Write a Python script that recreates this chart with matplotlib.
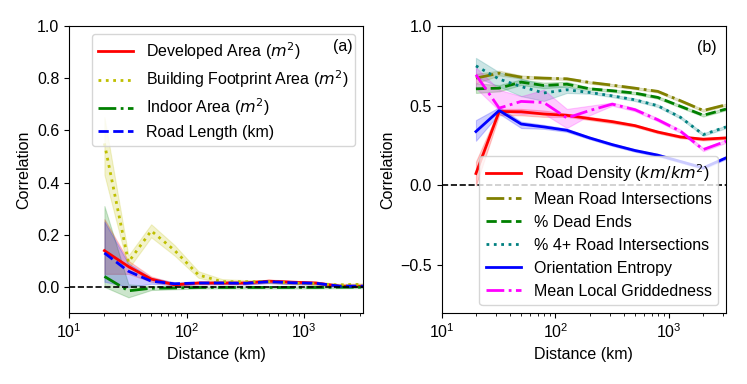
import matplotlib
matplotlib.use("Agg")
import matplotlib.pyplot as plt
import numpy as np

plt.rcParams['font.family'] = ['Liberation Sans', 'DejaVu Sans']
plt.rcParams['mathtext.fontset'] = 'dejavusans'

distance = [20, 32, 50, 79, 126, 200, 316, 501, 794, 1259, 1995, 3162]

# Panel (a)
developed = [0.139, 0.078, 0.030, 0.008, 0.015, 0.015, 0.015, 0.022, 0.018, 0.015, 0.003, 0.003]
developed_lo = [0.05, 0.05, 0.020, 0.003, 0.010, 0.010, 0.010, 0.016, 0.012, 0.010, 0.000, 0.000]
developed_hi = [0.26, 0.10, 0.040, 0.014, 0.020, 0.020, 0.020, 0.028, 0.024, 0.020, 0.007, 0.007]

footprint = [0.55, 0.095, 0.215, 0.14, 0.046, 0.020, 0.020, 0.020, 0.015, 0.012, 0.008, 0.010]
footprint_lo = [0.43, 0.07, 0.19, 0.12, 0.035, 0.014, 0.015, 0.015, 0.011, 0.008, 0.004, 0.006]
footprint_hi = [0.65, 0.12, 0.24, 0.16, 0.060, 0.030, 0.026, 0.026, 0.020, 0.016, 0.012, 0.014]

indoor = [0.040, -0.015, -0.005, -0.004, -0.002, -0.002, -0.002, -0.002, -0.002, -0.002, -0.001, -0.001]
indoor_lo = [0.00, -0.040, -0.012, -0.009, -0.006, -0.006, -0.006, -0.006, -0.006, -0.006, -0.005, -0.005]
indoor_hi = [0.31, 0.010, 0.003, 0.002, 0.002, 0.002, 0.002, 0.002, 0.002, 0.002, 0.003, 0.003]

road_length = [0.130, 0.060, 0.022, 0.012, 0.015, 0.015, 0.014, 0.020, 0.016, 0.014, 0.003, 0.003]
road_length_lo = [0.02, 0.00, 0.012, 0.007, 0.010, 0.010, 0.009, 0.014, 0.010, 0.009, -0.001, -0.001]
road_length_hi = [0.25, 0.09, 0.035, 0.018, 0.020, 0.020, 0.019, 0.026, 0.022, 0.019, 0.007, 0.007]

# Panel (b)
road_density = [0.075, 0.464, 0.462, 0.448, 0.440, 0.419, 0.400, 0.375, 0.335, 0.304, 0.290, 0.298]
road_density_lo = [0.00, 0.44, 0.44, 0.43, 0.43, 0.41, 0.39, 0.367, 0.327, 0.296, 0.282, 0.290]
road_density_hi = [0.15, 0.48, 0.48, 0.47, 0.45, 0.43, 0.41, 0.383, 0.343, 0.312, 0.298, 0.306]

mean_inter = [0.673, 0.704, 0.679, 0.673, 0.669, 0.646, 0.629, 0.610, 0.590, 0.531, 0.470, 0.506]
mean_inter_lo = [0.64, 0.69, 0.67, 0.665, 0.662, 0.639, 0.622, 0.603, 0.583, 0.524, 0.463, 0.499]
mean_inter_hi = [0.70, 0.72, 0.69, 0.681, 0.676, 0.653, 0.636, 0.617, 0.597, 0.538, 0.477, 0.513]

dead_ends = [0.606, 0.610, 0.648, 0.627, 0.635, 0.606, 0.594, 0.579, 0.552, 0.496, 0.440, 0.479]
dead_ends_lo = [0.58, 0.59, 0.63, 0.61, 0.62, 0.598, 0.586, 0.571, 0.544, 0.488, 0.432, 0.471]
dead_ends_hi = [0.64, 0.63, 0.665, 0.645, 0.65, 0.614, 0.602, 0.587, 0.560, 0.504, 0.448, 0.487]

four_plus = [0.750, 0.667, 0.620, 0.580, 0.600, 0.583, 0.562, 0.537, 0.500, 0.427, 0.319, 0.367]
four_plus_lo = [0.68, 0.62, 0.56, 0.53, 0.58, 0.575, 0.554, 0.529, 0.492, 0.419, 0.311, 0.359]
four_plus_hi = [0.80, 0.71, 0.67, 0.63, 0.62, 0.591, 0.570, 0.545, 0.508, 0.435, 0.327, 0.375]

entropy = [0.338, 0.470, 0.385, 0.367, 0.346, 0.298, 0.256, 0.219, 0.190, 0.150, 0.110, 0.173]
entropy_lo = [0.28, 0.45, 0.36, 0.355, 0.336, 0.290, 0.248, 0.211, 0.182, 0.142, 0.102, 0.165]
entropy_hi = [0.41, 0.49, 0.40, 0.380, 0.356, 0.306, 0.264, 0.227, 0.198, 0.158, 0.118, 0.181]

griddedness = [0.694, 0.485, 0.527, 0.520, 0.423, 0.470, 0.510, 0.475, 0.412, 0.340, 0.225, 0.277]
griddedness_lo = [0.61, 0.47, 0.45, 0.45, 0.36, 0.44, 0.50, 0.465, 0.402, 0.330, 0.215, 0.267]
griddedness_hi = [0.74, 0.60, 0.56, 0.60, 0.48, 0.50, 0.52, 0.485, 0.422, 0.350, 0.235, 0.287]

fig = plt.figure(figsize=(7.47, 3.84), dpi=100)
ax1 = fig.add_axes([0.0924, 0.1849, 0.3936, 0.7474])
ax2 = fig.add_axes([0.5913, 0.1849, 0.3806, 0.7474])

fs = 11.5

def draw(ax, y, lo, hi, color, ls, label):
    ax.fill_between(distance, lo, hi, color=color, alpha=0.2, linewidth=0.8)
    ax.plot(distance, y, color=color, linestyle=ls, linewidth=2, label=label)

draw(ax1, developed, developed_lo, developed_hi, 'red', '-', r'Developed Area ($m^2$)')
draw(ax1, footprint, footprint_lo, footprint_hi, 'y', ':', r'Building Footprint Area ($m^2$)')
draw(ax1, indoor, indoor_lo, indoor_hi, 'g', '-.', r'Indoor Area ($m^2$)')
draw(ax1, road_length, road_length_lo, road_length_hi, 'blue', '--', 'Road Length (km)')
ax1.axhline(0, color='k', linestyle='--', linewidth=1.2)
ax1.set_xscale('log')
ax1.set_xlim(10, 10**3.5)
ax1.set_ylim(-0.1, 1.0)
ax1.set_yticks([0.0, 0.2, 0.4, 0.6, 0.8, 1.0])
ax1.set_xlabel('Distance (km)', fontsize=fs)
ax1.set_ylabel('Correlation', fontsize=fs)
ax1.tick_params(labelsize=fs)
ax1.legend(loc='upper right', fontsize=fs, labelspacing=0.4, handlelength=2.2)
ax1.text(0.966, 0.955, '(a)', transform=ax1.transAxes, ha='right', va='top',
         fontsize=fs, zorder=10)

draw(ax2, road_density, road_density_lo, road_density_hi, 'red', '-', r'Road Density ($km/km^2$)')
draw(ax2, mean_inter, mean_inter_lo, mean_inter_hi, 'olive', '-.', 'Mean Road Intersections')
draw(ax2, dead_ends, dead_ends_lo, dead_ends_hi, 'g', '--', '% Dead Ends')
draw(ax2, four_plus, four_plus_lo, four_plus_hi, 'teal', ':', '% 4+ Road Intersections')
draw(ax2, entropy, entropy_lo, entropy_hi, 'blue', '-', 'Orientation Entropy')
draw(ax2, griddedness, griddedness_lo, griddedness_hi, 'magenta', '-.', 'Mean Local Griddedness')
ax2.axhline(0, color='k', linestyle='--', linewidth=1.2)
ax2.set_xscale('log')
ax2.set_xlim(10, 10**3.5)
ax2.set_ylim(-0.8, 1.0)
ax2.set_yticks([-0.5, 0.0, 0.5, 1.0])
ax2.set_xlabel('Distance (km)', fontsize=fs)
ax2.set_ylabel('Correlation', fontsize=fs)
ax2.tick_params(labelsize=fs)
ax2.legend(loc='lower right', fontsize=fs, handlelength=2.2)
ax2.text(0.968, 0.95, '(b)', transform=ax2.transAxes, ha='right', va='top', fontsize=fs)

fig.savefig('out.png', dpi=100)
